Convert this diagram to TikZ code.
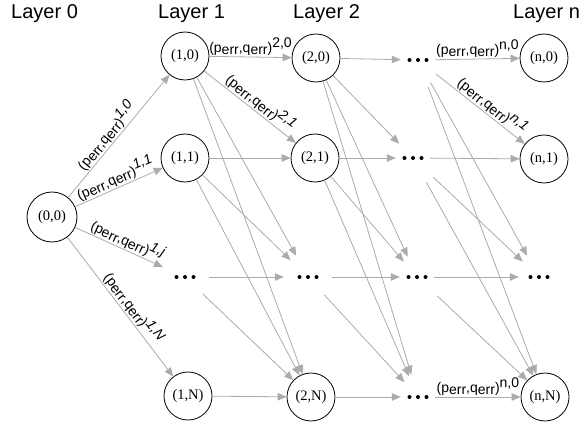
\documentclass[tikz,border=0pt]{standalone}
\usepackage{fontspec}
\setmainfont{Liberation Serif}
\newfontfamily\arialf{Liberation Sans}
\usetikzlibrary{arrows.meta,shapes.geometric}
\newcommand\PQ[1]{(p\lower1.6pt\hbox{err},q\lower1.6pt\hbox{err})\raise5pt\hbox{#1}}
\tikzset{
  st/.style={circle,draw=black,line width=0.8pt,minimum size=48pt,inner sep=0pt,
    font=\fontsize{14.5}{16}\selectfont},
  dotsA/.style={circle,minimum size=48pt,inner sep=0pt},
  dotsB/.style={ellipse,minimum width=34pt,minimum height=48pt,inner sep=0pt},
  dotsC/.style={ellipse,minimum width=40pt,minimum height=52pt,inner sep=0pt},
  ed/.style={draw=black!33,line width=0.8pt,-{Triangle[length=9pt,width=7.5pt]}},
  lab/.style={font=\arialf\fontsize{14}{15}\selectfont,inner sep=1pt,text=black},
  layer/.style={font=\arialf\fontsize{20}{22}\selectfont,anchor=base west,inner sep=0pt}
}
\begin{document}
\begin{tikzpicture}[x=1pt,y=-1pt]
\useasboundingbox (0,0) rectangle (586,422);
\node[layer] (L0) at (11,18.5) {Layer 0};
\node[layer] (L1) at (158,18.5) {Layer 1};
\node[layer] (L2) at (293,18.5) {Layer 2};
\node[layer] (Ln) at (513,18.5) {Layer n};

\node[st,minimum size=50pt] (n00) at (52,217) {(0,0)};
\node[st] (n10) at (185,56) {(1,0)};
\node[st] (n11) at (185,158) {(1,1)};
\node[dotsA] (d1j) at (185,277) {};
\node[st] (n1N) at (188,396) {(1,N)};
\node[st] (n20) at (316,58) {(2,0)};
\node[st] (n21) at (315,158) {(2,1)};
\node[dotsA] (d2j) at (308,277) {};
\node[st] (n2N) at (311,397) {(2,N)};
\node[dotsB] (d30) at (418,60) {};
\node[dotsB] (d31) at (413,158) {};
\node[dotsB] (d3j) at (417,277) {};
\node[dotsB] (d3N) at (418,397) {};
\node[st] (nn0) at (544,58) {(n,0)};
\node[st] (nn1) at (544,159) {(n,1)};
\node[dotsC] (dnj) at (539,277) {};
\node[st] (nnN) at (545,397) {(n,N)};

\foreach \d in {d1j,d2j,d30,d31,d3j,d3N,dnj}
  \fill (\d) ++(-8.5pt,0pt) circle (2pt) (\d) circle (2pt) (\d) ++(8.5pt,0pt) circle (2pt);

% layer 0 -> 1
\draw[ed] (n00) -- node[lab,sloped,above,pos=0.45] {\PQ{\itshape 1,0}} (n10);
\draw[ed] (n00) -- node[lab,sloped,above,pos=0.5] {\PQ{\itshape 1,1}} (n11);
\draw[ed] (n00) -- node[lab,sloped,above,pos=0.55] {\PQ{\itshape 1,j}} (d1j);
\draw[ed] (n00) -- node[lab,sloped,above,pos=0.55] {\PQ{\itshape 1,N}} (n1N);

% layer 1 -> 2
\draw[ed] (n10) -- node[lab,above] {\PQ{2,0}} (n20);
\draw[ed] (n10) -- node[lab,sloped,above,pos=0.55] {\PQ{\itshape 2,1}} (n21);
\draw[ed] (n10) -- (d2j);
\draw[ed] (n10) -- (n2N);
\draw[ed] (n11) -- (n21);
\draw[ed] (n11) -- (d2j);
\draw[ed] (n11) -- (n2N);
\draw[ed] (d1j) -- (d2j);
\draw[ed] (d1j) -- (n2N);
\draw[ed] (n1N) -- (n2N);

% layer 2 -> dots
\draw[ed] (n20) -- (d30);
\draw[ed] (n20) -- (d31);
\draw[ed] (n20) -- (d3j);
\draw[ed] (n20) -- (d3N);
\draw[ed] (n21) -- (d31);
\draw[ed] (n21) -- (d3j);
\draw[ed] (n21) -- (d3N);
\draw[ed] (d2j) -- (d3j);
\draw[ed] (d2j) -- (d3N);
\draw[ed] (n2N) -- (d3N);

% dots -> layer n
\draw[ed] (d30) -- node[lab,above] {\PQ{n,0}} (nn0);
\draw[ed,shorten <=4pt] (d30) -- node[lab,sloped,above,pos=0.58] {\PQ{\itshape n,1}} (nn1);
\draw[ed,shorten <=4pt] (d30) -- (dnj);
\draw[ed,shorten <=6pt] (d30) -- (nnN);
\draw[ed] (d31) -- (nn1);
\draw[ed,shorten <=8pt] (d31) -- (dnj);
\draw[ed,shorten <=6pt] (d31) -- (nnN);
\draw[ed] (d3j) -- (dnj);
\draw[ed,shorten <=8pt] (d3j) -- (nnN);
\draw[ed] (d3N) -- node[lab,above] {\PQ{n,0}} (nnN);
\end{tikzpicture}
\end{document}
